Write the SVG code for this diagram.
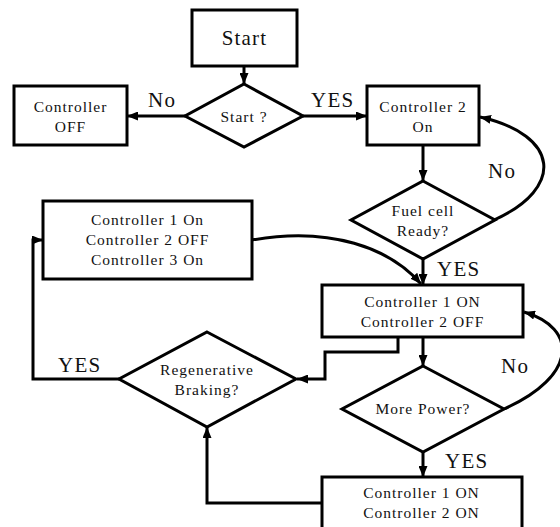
<svg xmlns="http://www.w3.org/2000/svg" width="560" height="527" viewBox="0 0 560 527">
<defs>
<marker id="ah" markerUnits="userSpaceOnUse" markerWidth="11" markerHeight="9" refX="11" refY="4.5" orient="auto">
<path d="M0,0 L11,4.5 L0,9 z" fill="#000"/>
</marker>
<style>
.box{fill:#fff;stroke:#000;stroke-width:3}
.c{fill:none;stroke:#000;stroke-width:3;marker-end:url(#ah)}
text{fill:#111;font-family:Liberation Serif, Tinos, Times New Roman, DejaVu Serif, serif}
.t{font-size:15.5px;letter-spacing:1px;text-anchor:middle}
.lb{font-size:21px;letter-spacing:1.3px}
</style>
</defs>
<rect width="560" height="527" fill="#fff"/>
<g id="connectors">
<line class="c" x1="244" y1="66" x2="244" y2="84"/>
<line class="c" x1="185" y1="116" x2="127" y2="116"/>
<line class="c" x1="303" y1="116" x2="367" y2="116"/>
<line class="c" x1="423" y1="145" x2="423" y2="181"/>
<path class="c" d="M494,220 C565,188 560,135 480,117"/>
<line class="c" x1="423" y1="259" x2="423" y2="285"/>
<path class="c" d="M252,240 C330,226 390,248 421,284"/>
<path class="c" d="M398,337 L398,352 L325,352 L325,379 L297,379"/>
<line class="c" x1="423" y1="337" x2="423" y2="366"/>
<path class="c" d="M504,409 C578,376 578,328 524,312"/>
<line class="c" x1="423" y1="452" x2="423" y2="477"/>
<path class="c" d="M322,503 L207,503 L207,427"/>
<path class="c" d="M119,379 L33,379 L33,240 L43,240"/>
</g>
<g id="start">
<rect class="box" x="192" y="10" width="105" height="56"/>
<text x="244.5" y="45" font-size="21" letter-spacing="1.2" text-anchor="middle" style="font-family:'Liberation Serif',serif">Start</text>
</g>
<g id="startq">
<polygon class="box" points="244,84 303,116 244,147 185,116"/>
<text class="t" x="244" y="122">Start ?</text>
</g>
<g id="ctrloff">
<rect class="box" x="14" y="86" width="113" height="59"/>
<text class="t" x="70.5" y="112">Controller</text>
<text class="t" x="70.5" y="132">OFF</text>
</g>
<g id="ctrl2on">
<rect class="box" x="367" y="86" width="112" height="59"/>
<text class="t" x="423" y="112">Controller 2</text>
<text class="t" x="423" y="132">On</text>
</g>
<g id="fuel">
<polygon class="box" points="423,181 495,220 423,259 351,220"/>
<text class="t" x="423" y="216">Fuel cell</text>
<text class="t" x="423" y="236">Ready?</text>
</g>
<g id="c1on3on">
<rect class="box" x="43" y="201" width="209" height="78"/>
<text class="t" x="147.5" y="225">Controller 1 On</text>
<text class="t" x="147.5" y="245">Controller 2 OFF</text>
<text class="t" x="147.5" y="265">Controller 3 On</text>
</g>
<g id="c1on2off">
<rect class="box" x="322" y="285" width="201" height="52"/>
<text class="t" x="422.5" y="307">Controller 1 ON</text>
<text class="t" x="422.5" y="327">Controller 2 OFF</text>
</g>
<g id="regen">
<polygon class="box" points="207,332 296,379 207,427 119,379"/>
<text class="t" x="207" y="375">Regenerative</text>
<text class="t" x="207" y="395">Braking?</text>
</g>
<g id="morepower">
<polygon class="box" points="423,366 504,409 423,452 342,409"/>
<text class="t" x="423" y="414">More Power?</text>
</g>
<g id="c1on2on">
<rect class="box" x="322" y="477" width="200" height="60"/>
<text class="t" x="421.5" y="498">Controller 1 ON</text>
<text class="t" x="421.5" y="518">Controller 2 ON</text>
</g>
<g id="labels">
<text class="lb" x="148" y="107">No</text>
<text class="lb" x="311" y="107">YES</text>
<text class="lb" x="488" y="178">No</text>
<text class="lb" x="437" y="276">YES</text>
<text class="lb" x="58" y="372">YES</text>
<text class="lb" x="501" y="373">No</text>
<text class="lb" x="445" y="468">YES</text>
</g>
</svg>
